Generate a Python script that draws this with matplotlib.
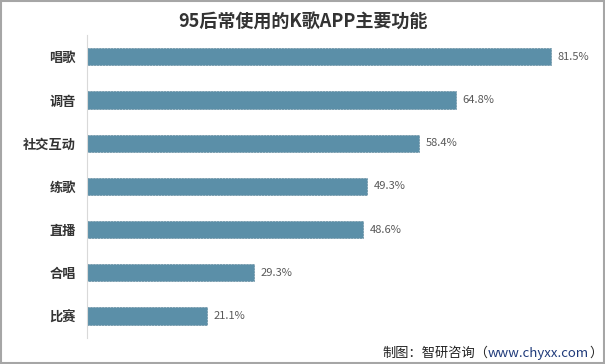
import matplotlib
matplotlib.use("Agg")
import matplotlib.pyplot as plt
from matplotlib.patches import Rectangle

plt.rcParams['font.family'] = ['Noto Sans CJK SC', 'DejaVu Sans']

categories = ['唱歌', '调音', '社交互动', '练歌', '直播', '合唱', '比赛']
values = [81.5, 64.8, 58.4, 49.3, 48.6, 29.3, 21.1]
value_labels = ['81.5%', '64.8%', '58.4%', '49.3%', '48.6%', '29.3%', '21.1%']

fig = plt.figure(figsize=(6.05, 3.64), dpi=100)
ax = fig.add_axes([87/605, 26.4/364, 512/605, 302.4/364])

y = list(range(len(categories)))
ax.barh(y, values, height=0.4, color='#5B8FA8', edgecolor='#557f94',
        linestyle='--', linewidth=0.4)
ax.set_ylim(len(categories) - 0.5, -0.5)
ax.set_xlim(0, 90)
ax.set_yticks(y)
ax.set_yticklabels(categories, fontsize=9.5, fontweight='bold', color='#333333')
ax.tick_params(axis='y', length=0, pad=8)
ax.set_xticks([])
for s in ['top', 'right', 'bottom']:
    ax.spines[s].set_visible(False)
ax.spines['left'].set_color('#d9d9d9')

for yi, v, lab in zip(y, values, value_labels):
    ax.text(v + 1.2, yi, lab, va='center', ha='left', fontsize=8, color='#595959')

fig.text(0.5, 1 - 22/364, '95后常使用的K歌APP主要功能', ha='center', va='center',
         fontsize=13, fontweight='bold', color='#333333')

# source line, three coloured parts laid side by side
t1 = fig.text(382/605, 1 - 353/364, '制图：智研咨询（', ha='left', va='center',
              fontsize=9.5, color='#222222')
a2 = plt.annotate('www.chyxx.com', xy=(1, 0.5), xycoords=t1, ha='left', va='center',
                  fontsize=9.5, color='#1f3a7a', annotation_clip=False)
a3 = plt.annotate('）', xy=(1, 0.5), xycoords=a2, ha='left', va='center',
                  fontsize=9.5, color='#222222', annotation_clip=False)

fig.patches.append(Rectangle((0.002, 0.003), 0.996, 0.994, transform=fig.transFigure,
                             fill=False, edgecolor='#a6a6a6', linewidth=1.5))

fig.savefig('out.png', dpi=100)
